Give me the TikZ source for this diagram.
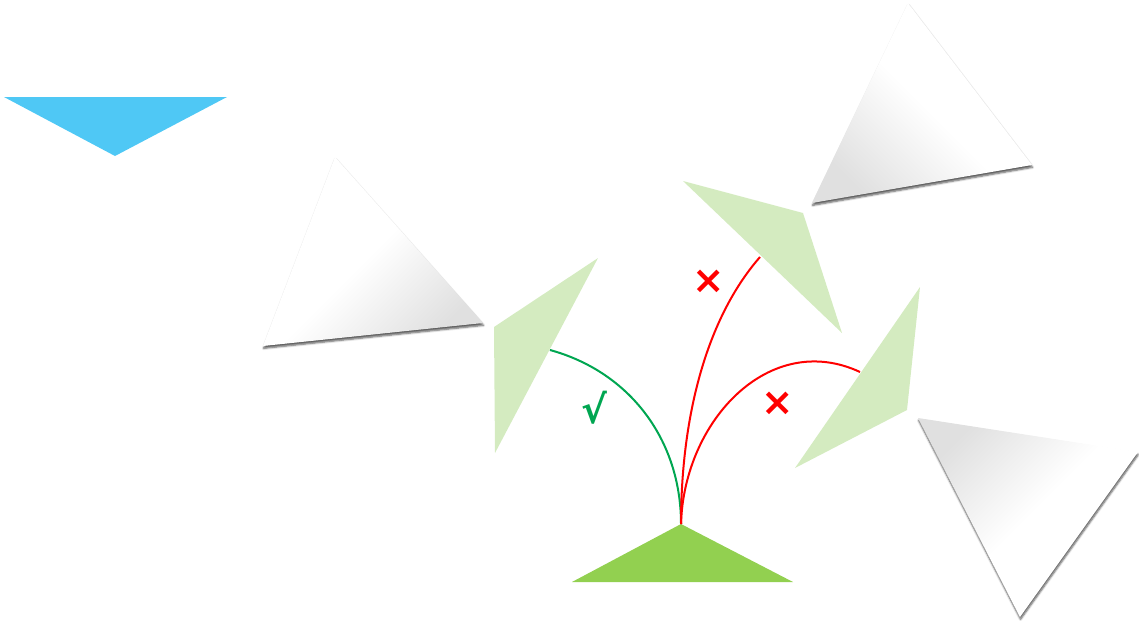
\documentclass[tikz,border=0pt]{standalone}
\usepackage{fontspec}
\newfontfamily\dejavu{DejaVu Sans}
\usetikzlibrary{shadows.blur}
\definecolor{skyblue}{HTML}{4FC8F5}
\definecolor{leafgreen}{HTML}{D4EBC0}
\definecolor{basegreen}{HTML}{92D050}
\definecolor{okgreen}{HTML}{00A651}
\definecolor{badred}{HTML}{FF0000}
\begin{document}
\begin{tikzpicture}[x=0.75pt,y=-0.75pt,
  glass/.style={top color=white, bottom color=gray!24, middle color=white,
    blur shadow={shadow xshift=0.4pt, shadow yshift=-1.8pt, shadow blur steps=5, shadow blur radius=1.4pt, shadow opacity=65}},
  leaf/.style={fill=leafgreen, draw=none},
  curveline/.style={line width=1.5pt},
  verdict/.style={font=\dejavu\bfseries\fontsize{29}{29}\selectfont, inner sep=0pt}
]
\useasboundingbox (0,0) rectangle (1139,621);
% blue triangle
\fill[skyblue] (4,97) -- (227,97) -- (115,156) -- cycle;
% gray triangles
\shade[glass, shading angle=45] (335,157) -- (483,323) -- (263,346) -- cycle;
\shade[glass, shading angle=-45] (908,3) -- (1032,165) -- (812,203) -- cycle;
\shade[glass, shading angle=-135] (918,418) -- (1138,452) -- (1020,617) -- cycle;
% light green triangles
\fill[leaf] (598,258) -- (494,327) -- (495,453) -- cycle;
\fill[leaf] (683,181) -- (803,213) -- (842,333) -- cycle;
\fill[leaf] (920,287) -- (907,410) -- (795,468) -- cycle;
% base
\fill[basegreen] (681,524) -- (793,582) -- (572,582) -- cycle;
% end points
\coordinate (apex) at (681,524);
\coordinate (endL) at (550,350);
\coordinate (endT) at (760,257);
\coordinate (endR) at (860,372);
% curves
\draw[curveline, okgreen] (apex) .. controls (681,440) and (630,372) .. (endL);
\draw[curveline, badred] (apex) .. controls (681,420) and (705,320) .. (endT);
\draw[curveline, badred] (apex) .. controls (684,420) and (770,330) .. (endR);
% marks
\node[verdict, okgreen] (ok) at (594,408) {√};
\node[verdict, badred] (noT) at (709,282) {×};
\node[verdict, badred] (noR) at (778,404) {×};
\end{tikzpicture}
\end{document}
